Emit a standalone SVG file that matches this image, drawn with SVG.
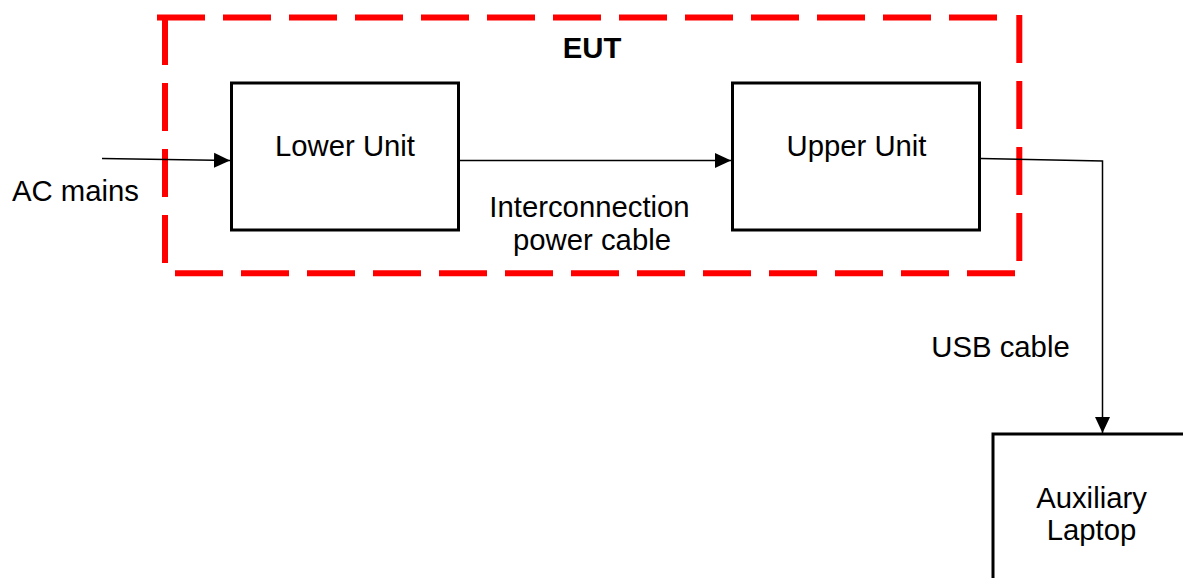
<svg xmlns="http://www.w3.org/2000/svg" width="1183" height="578" viewBox="0 0 1183 578">
<style>
.t{font-family:"Liberation Sans",Arial,sans-serif;font-size:29.3px;fill:#000}
.b{font-weight:bold}
.box{fill:#fff;stroke:#000;stroke-width:3}
.eut{fill:none;stroke:#ff0000;stroke-width:6;stroke-dasharray:48 18}
.c{fill:none;stroke:#000;stroke-width:1.5}
</style>
<defs>
<marker id="ah" viewBox="0 0 16 16" refX="16" refY="8" markerWidth="16" markerHeight="16" markerUnits="userSpaceOnUse" orient="auto">
<path d="M0,0.5 L16,8 L0,15.5 Z" fill="#000"/>
</marker>
</defs>
<g id="eut-boundary">
<path class="eut" d="M157,17.5 H1015"/>
<path class="eut" d="M165,17 V273"/>
<path class="eut" d="M1019.3,15 V262"/>
<path class="eut" d="M175,273.3 H1015"/>
<text class="t b" x="592" y="58" text-anchor="middle">EUT</text>
</g>
<g id="connectors">
<path class="c" d="M102,158.5 L230,160.5" marker-end="url(#ah)"/>
<path class="c" d="M460,160.5 H731" marker-end="url(#ah)"/>
<path class="c" d="M981,158.5 L1102.5,161 V433" marker-end="url(#ah)"/>
</g>
<g id="lower-unit">
<rect class="box" x="231.5" y="83" width="227" height="147"/>
<text class="t" x="345" y="156" text-anchor="middle">Lower Unit</text>
</g>
<g id="upper-unit">
<rect class="box" x="732.5" y="83" width="247" height="147"/>
<text class="t" x="856.5" y="156" text-anchor="middle">Upper Unit</text>
</g>
<g id="laptop">
<rect class="box" x="993" y="434" width="200" height="160"/>
<text class="t" x="1091.5" y="508" text-anchor="middle">Auxiliary</text>
<text class="t" x="1091.5" y="540" text-anchor="middle">Laptop</text>
</g>
<g id="labels">
<text class="t" x="12" y="201">AC mains</text>
<text class="t" x="589.5" y="217" text-anchor="middle">Interconnection</text>
<text class="t" x="592" y="250" text-anchor="middle">power cable</text>
<text class="t" x="1000.5" y="357" text-anchor="middle">USB cable</text>
</g>
</svg>
